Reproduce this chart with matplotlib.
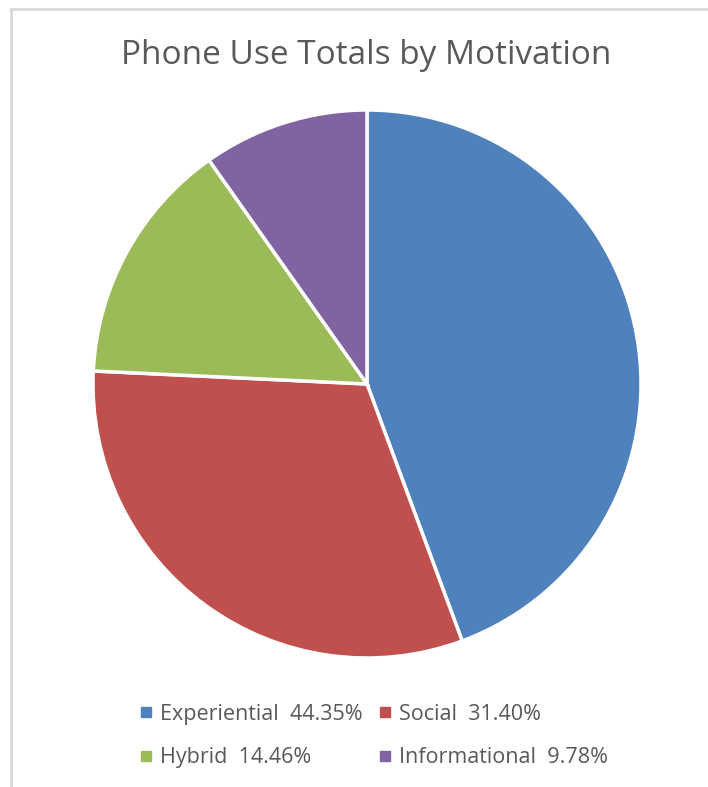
import matplotlib
matplotlib.use("Agg")
import matplotlib.pyplot as plt
from matplotlib.lines import Line2D
from matplotlib.patches import Rectangle

categories = ["Experiential", "Social", "Hybrid", "Informational"]
values = [44.35, 31.40, 14.46, 9.78]
colors = ["#4F81BD", "#C0504D", "#9BBB59", "#8064A2"]
title = "Phone Use Totals by Motivation"

W, H = 708, 787
fig = plt.figure(figsize=(W / 100, H / 100), dpi=100)
fig.patch.set_facecolor("white")

# chart-area border
fig.add_artist(Rectangle((10.5 / W, -0.05), 1.1, 1 - 8.5 / H + 0.05,
                         transform=fig.transFigure, fill=False,
                         edgecolor="#d9d9d9", linewidth=2))

cx, cy, r = 367, 384, 274
ax = fig.add_axes([(cx - r) / W, (H - cy - r) / H, 2 * r / W, 2 * r / H])
wedges, _ = ax.pie(values, colors=colors, startangle=90, counterclock=False,
                   radius=1, wedgeprops=dict(edgecolor="white", linewidth=2.5))
ax.set_xlim(-1.0, 1.0)
ax.set_ylim(-1.0, 1.0)
ax.set_aspect("equal")
ax.axis("off")

fig.text(366 / W, 1 - 56 / H, title, ha="center", va="center",
         fontsize=24, color="#595959", family="Open Sans")

handles = [Line2D([], [], marker="s", linestyle="none", markersize=7,
                  markerfacecolor=c, markeredgecolor=c) for c in colors]
labels = [f"{c}  {v:.2f}%" for c, v in zip(categories, values)]
order = [0, 2, 1, 3]  # row-major layout for ncol=2
leg = fig.legend([handles[i] for i in order], [labels[i] for i in order],
                 ncol=2, loc="center",
                 bbox_to_anchor=(374 / W, 1 - 736 / H), frameon=False,
                 prop=dict(family="Open Sans", size=15.5),
                 handlelength=0.5, handletextpad=0.4, columnspacing=0.8,
                 labelspacing=1.05, labelcolor="#595959")

fig.savefig("out.png", dpi=100, facecolor="white")
